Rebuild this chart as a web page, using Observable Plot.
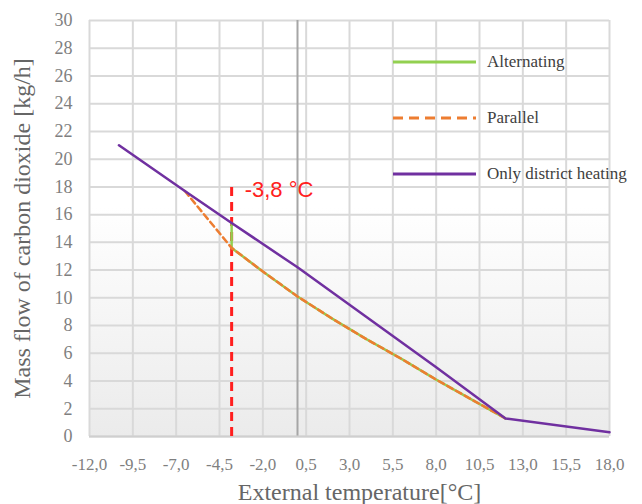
<!DOCTYPE html>
<html>
<head>
<meta charset="utf-8">
<script src="https://cdn.jsdelivr.net/npm/d3@7"></script>
<script src="https://cdn.jsdelivr.net/npm/@observablehq/plot@0.6"></script>
<style>
  html, body { margin: 0; padding: 0; background: #fff; }
  #wrap { position: relative; width: 642px; height: 504px; }
  #legend { position: absolute; left: 0; top: 0; width: 642px; height: 504px; pointer-events: none; }
  .lg-item { position: absolute; display: flex; align-items: center; font-family: "Liberation Serif", serif; font-size: 17px; color: #404040; }
  .lg-item svg { margin-right: 11px; }
</style>
</head>
<body>
<div id="wrap"></div>
<script>
// ---- data ----
const xTicks = [-12, -9.5, -7, -4.5, -2, 0.5, 3, 5.5, 8, 10.5, 13, 15.5, 18];
const yTicks = [0, 2, 4, 6, 8, 10, 12, 14, 16, 18, 20, 22, 24, 26, 28, 30];

const onlyX = [-10.3, -6.5, -3.8, 0, 4, 8, 12, 18];
const onlyY = [21.0, 17.7, 15.4, 12.2, 8.6, 5.0, 1.3, 0.3];

const altX = [-3.8, -3.8, -2, 0, 2, 4, 6, 8, 10, 12];
const altY = [15.4, 13.6, 11.9, 10.1, 8.5, 7.0, 5.6, 4.1, 2.7, 1.3];

const parX = [-6.5, -3.8, -2, 0, 2, 4, 6, 8, 10, 12];
const parY = [17.7, 13.6, 11.9, 10.1, 8.5, 7.0, 5.6, 4.1, 2.7, 1.3];

const threshold = -3.8;
const thresholdTop = 18.2;
const thresholdLabel = "-3,8 °C";

const seriesNames = ["Alternating", "Parallel", "Only district heating"];
const xTitle = "External temperature[°C]";
const yTitle = "Mass flow of carbon dioxide [kg/h]";

// ---- build ----
const toRows = (xs, ys) => xs.map((x, i) => ({x, y: ys[i]}));
const onlyRows = toRows(onlyX, onlyY);
const altRows = toRows(altX, altY);
const parRows = toRows(parX, parY);
const fmtX = d => d.toFixed(1).replace(".", ",");

const serif = "Liberation Serif, serif";

const chart = Plot.plot({
  width: 642,
  height: 504,
  marginLeft: 89,
  marginRight: 33,
  marginTop: 20,
  marginBottom: 68,
  x: {domain: [-12, 18]},
  y: {domain: [0, 30]},
  style: {fontFamily: serif, background: "white", overflow: "visible"},
  marks: [
    Plot.frame({fill: "url(#bgGrad)", stroke: null}),
    Plot.gridX(xTicks, {stroke: "#d9d9d9", strokeOpacity: 1, strokeWidth: 2}),
    Plot.gridY(yTicks, {stroke: "#d9d9d9", strokeOpacity: 1, strokeWidth: 2}),
    Plot.ruleX([0], {stroke: "#a6a6a6", strokeWidth: 2}),
    Plot.ruleY([0], {stroke: "#cfcfcf", strokeWidth: 2}),
    Plot.axisX(xTicks, {tickSize: 0, tickPadding: 21, fontSize: 17, tickFormat: fmtX, label: null, color: "#7f7f7f", fontFamily: serif}),
    Plot.axisY(yTicks, {tickSize: 0, tickPadding: 17, fontSize: 18, label: null, color: "#7f7f7f", fontFamily: serif}),
    Plot.text([xTitle], {frameAnchor: "bottom", textAnchor: "middle", lineAnchor: "middle", dx: 10, dy: 56, fontSize: 24, fill: "#666", fontFamily: serif, text: d => d}),
    Plot.text([yTitle], {frameAnchor: "left", textAnchor: "middle", lineAnchor: "middle", dx: -67, rotate: -90, fontSize: 24, fill: "#666", fontFamily: serif, text: d => d}),
    Plot.ruleX([threshold], {y1: 0, y2: thresholdTop, stroke: "#ff1f1f", strokeWidth: 3, strokeDasharray: "9,6"}),
    Plot.text([{x: threshold, y: thresholdTop, t: thresholdLabel}], {x: "x", y: "y", text: "t", textAnchor: "start", dx: 13, dy: 6, fill: "#ff2020", fontSize: 22, fontFamily: "Liberation Sans, sans-serif", letterSpacing: 1}),
    Plot.line(altRows, {x: "x", y: "y", stroke: "#92d050", strokeWidth: 2.5}),
    Plot.line(parRows, {x: "x", y: "y", stroke: "#ed7d31", strokeWidth: 2.5, strokeDasharray: "6,4"}),
    Plot.line(onlyRows, {x: "x", y: "y", stroke: "#7030a0", strokeWidth: 2.5})
  ]
});

// gradient background for plot area
const defs = d3.select(chart).insert("defs", ":first-child");
const g = defs.append("linearGradient").attr("id", "bgGrad").attr("x1", 0).attr("y1", 0).attr("x2", 0).attr("y2", 1);
g.append("stop").attr("offset", "0%").attr("stop-color", "#ffffff");
g.append("stop").attr("offset", "45%").attr("stop-color", "#ffffff");
g.append("stop").attr("offset", "100%").attr("stop-color", "#ebebeb");

const wrap = document.getElementById("wrap");
wrap.appendChild(chart);

// legend overlay
const legend = document.createElement("div");
legend.id = "legend";
const lgStyles = [
  {stroke: "#92d050", dash: null, top: 62},
  {stroke: "#ed7d31", dash: "10,6", top: 118},
  {stroke: "#7030a0", dash: null, top: 174}
];
seriesNames.forEach((name, i) => {
  const s = lgStyles[i];
  const item = document.createElement("div");
  item.className = "lg-item";
  item.style.left = "393px";
  item.style.top = (s.top - 12) + "px";
  item.style.height = "24px";
  item.innerHTML = `<svg width="83" height="24"><line x1="0" y1="12" x2="83" y2="12" stroke="${s.stroke}" stroke-width="3" ${s.dash ? `stroke-dasharray="${s.dash}"` : ""}/></svg><span></span>`;
  item.querySelector("span").textContent = name;
  legend.appendChild(item);
});
wrap.appendChild(legend);
</script>
</body>
</html>
